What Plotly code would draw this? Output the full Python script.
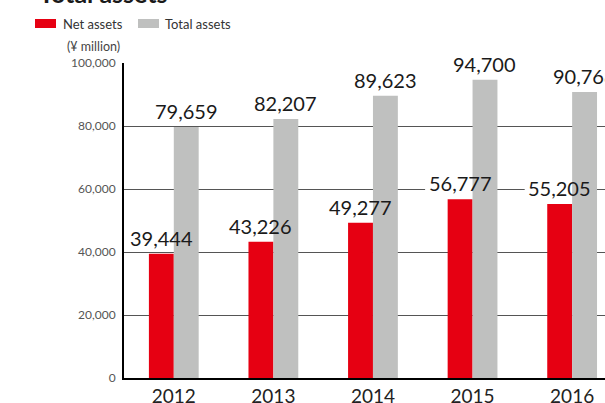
import plotly.graph_objects as go

# Figures in ¥ million
years = ["2012", "2013", "2014", "2015", "2016"]
net_assets = [39444, 43226, 49277, 56777, 55205]
total_assets = [79659, 82207, 89623, 94700, 90768]
y_ticks = [0, 20000, 40000, 60000, 80000, 100000]

RED = "#E60012"
GREY = "#BFC0BF"
FONT = "Lato"

W, H = 605, 403
L, R, T, B = 124, 0, 63, 25
PW, PH = W - L - R, H - T - B
X_RANGE = [-0.5, 4.33]
BARGAP = 0.5

def px_x(px):
    return (px - L) / PW

def px_y(py):
    return (H - B - py) / PH

fig = go.Figure()
fig.add_trace(go.Bar(x=years, y=net_assets, name="Net assets",
                     marker=dict(color=RED, line=dict(width=0)), showlegend=False))
fig.add_trace(go.Bar(x=years, y=total_assets, name="Total assets",
                     marker=dict(color=GREY, line=dict(width=0)), showlegend=False))

# value labels above each bar; a white patch between gridlines and bars
# breaks any gridline running through a label
cat_px = PW / (X_RANGE[1] - X_RANGE[0])
bar_px = cat_px * (1 - BARGAP) / 2
bar_off = (1 - BARGAP) / 4          # bar centre offset, in category units
annotations = []
shapes = []
for series, sign in ((net_assets, -1), (total_assets, 1)):
    for i, v in enumerate(series):
        annotations.append(dict(
            x=i, y=v, xref="x", yref="y", xshift=sign * bar_px / 2, yshift=2,
            text=f"{v:,}", showarrow=False, yanchor="bottom", xanchor="center",
            font=dict(family=FONT, size=20, color="#1a1a1a")))
        shapes.append(dict(
            type="rect", layer="between", xref="x", yref="y",
            xsizemode="pixel", xanchor=i + sign * bar_off, x0=-35, x1=35,
            ysizemode="pixel", yanchor=v, y0=5, y1=22,
            fillcolor="white", line=dict(width=0)))

# chart heading (runs off the top edge)
annotations.append(dict(x=px_x(37), y=px_y(10), xref="paper", yref="paper",
                        text="<b>Total assets</b>", showarrow=False,
                        xanchor="left", yanchor="bottom",
                        font=dict(family=FONT, size=25, color="#1a1a1a")))
# unit note
annotations.append(dict(x=px_x(122), y=px_y(47), xref="paper", yref="paper",
                        text="(¥ million)", showarrow=False,
                        xanchor="right", yanchor="middle",
                        font=dict(family=FONT, size=12.5, color="#444")))

# legend
legend_items = [("Net assets", RED, 35, 61), ("Total assets", GREY, 138, 163)]
for label, color, sx, tx in legend_items:
    shapes.append(dict(type="rect", xref="paper", yref="paper",
                       x0=px_x(sx), x1=px_x(sx + 21), y0=px_y(28), y1=px_y(19),
                       fillcolor=color, line=dict(width=0)))
    annotations.append(dict(x=px_x(tx), y=px_y(23.5), xref="paper", yref="paper",
                            text=label, showarrow=False, xanchor="left",
                            yanchor="middle",
                            font=dict(family=FONT, size=13, color="#333")))

fig.update_layout(
    width=W, height=H,
    margin=dict(l=L, r=R, t=T, b=B, pad=0, autoexpand=False),
    paper_bgcolor="white", plot_bgcolor="white",
    barmode="group", bargap=BARGAP, bargroupgap=0,
    annotations=annotations, shapes=shapes,
    font=dict(family=FONT),
)
fig.update_xaxes(type="category", range=X_RANGE, showgrid=False, automargin=False,
                 showline=True, linecolor="black", linewidth=2,
                 ticks="", ticklabelstandoff=0,
                 tickfont=dict(family=FONT, size=19, color="#222"),
                 fixedrange=True)
fig.update_yaxes(range=[0, 100000], tickvals=y_ticks, tickformat=",", automargin=False,
                 showgrid=True, gridcolor="#555", gridwidth=1,
                 zeroline=False, showline=True, linecolor="black", linewidth=2,
                 ticks="", ticklabelstandoff=4,
                 tickfont=dict(family=FONT, size=12, color="#555"),
                 fixedrange=True)

fig.write_html("out.html", config=dict(displayModeBar=False))
